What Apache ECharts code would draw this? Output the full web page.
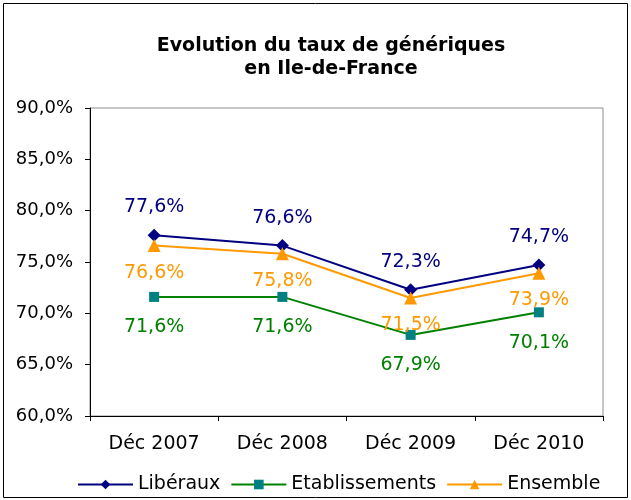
<!DOCTYPE html>
<html>
<head>
<meta charset="utf-8">
<script src="https://cdn.jsdelivr.net/npm/echarts@6/dist/echarts.min.js"></script>
<style>
  html, body { margin: 0; padding: 0; background: #fff; }
  #chart { width: 631px; height: 500px; }
</style>
</head>
<body>
<div id="chart"></div>
<script>
// données
const categories = ['Déc 2007', 'Déc 2008', 'Déc 2009', 'Déc 2010']
const liberaux = [77.6, 76.6, 72.3, 74.7]
const etablissements = [71.6, 71.6, 67.9, 70.1]
const ensemble = [76.6, 75.8, 71.5, 73.9]

const font = 'DejaVu Sans, Verdana, sans-serif'
const pct = v => v.toFixed(1).replace('.', ',') + '%'

const chart = echarts.init(document.getElementById('chart'))

const option = {
    animation: false,
    backgroundColor: '#fff',
    title: {
        text: 'Evolution du taux de génériques\nen Ile-de-France',
        left: 326,
        top: 30,
        textAlign: 'center',
        textStyle: { fontFamily: font, fontSize: 19, fontWeight: 'bold', color: '#000', lineHeight: 23 }
    },
    // cadre noir autour du graphique
    graphic: [{
        type: 'rect',
        shape: { x: 3.5, y: 3.5, width: 624, height: 494 },
        style: { fill: 'none', stroke: '#000', lineWidth: 1 }
    }],
    grid: {
        left: 90, right: 28, top: 108, bottom: 84,
        show: true, borderColor: '#8c8c8c', borderWidth: 1
    },
    legend: {
        bottom: 1,
        left: 72,
        itemWidth: 55,
        itemHeight: 12,
        itemGap: 10,
        textStyle: { fontFamily: font, fontSize: 19, color: '#000' },
        data: ['Libéraux', 'Etablissements', 'Ensemble']
    },
    xAxis: {
        type: 'category',
        data: categories,
        boundaryGap: true,
        axisLine: { lineStyle: { color: '#000' } },
        axisTick: { show: true, length: 5, lineStyle: { color: '#000' } },
        axisLabel: { fontFamily: font, fontSize: 19, color: '#000', margin: 19 }
    },
    yAxis: {
        type: 'value',
        min: 60, max: 90, interval: 5,
        splitLine: { show: false },
        axisLine: { show: true, lineStyle: { color: '#000' } },
        axisTick: { show: true, length: 5, lineStyle: { color: '#000' } },
        axisLabel: { fontFamily: font, fontSize: 18, color: '#000', margin: 17, formatter: pct }
    },
    series: [
        {
            name: 'Libéraux',
            type: 'line',
            data: liberaux,
            symbol: 'diamond',
            symbolSize: 13,
            itemStyle: { color: '#000080' },
            lineStyle: { color: '#000080', width: 2 },
            label: {
                show: true, position: 'top', distance: 12,
                fontFamily: font, fontSize: 19, color: '#000080',
                formatter: p => pct(p.value)
            }
        },
        {
            name: 'Etablissements',
            type: 'line',
            data: etablissements,
            symbol: 'rect',
            symbolSize: 10,
            itemStyle: { color: '#008080' },
            lineStyle: { color: '#008000', width: 2 },
            label: {
                show: true, position: 'bottom', distance: 16,
                fontFamily: font, fontSize: 19, color: '#008000',
                formatter: p => pct(p.value)
            }
        },
        {
            name: 'Ensemble',
            type: 'line',
            data: ensemble,
            symbol: 'triangle',
            symbolSize: 13,
            itemStyle: { color: '#FF9900' },
            lineStyle: { color: '#FF9900', width: 2 },
            label: {
                show: true, position: 'bottom', distance: 11,
                fontFamily: font, fontSize: 19, color: '#FF9900',
                formatter: p => pct(p.value)
            }
        }
    ]
}

chart.setOption(option)
</script>
</body>
</html>
